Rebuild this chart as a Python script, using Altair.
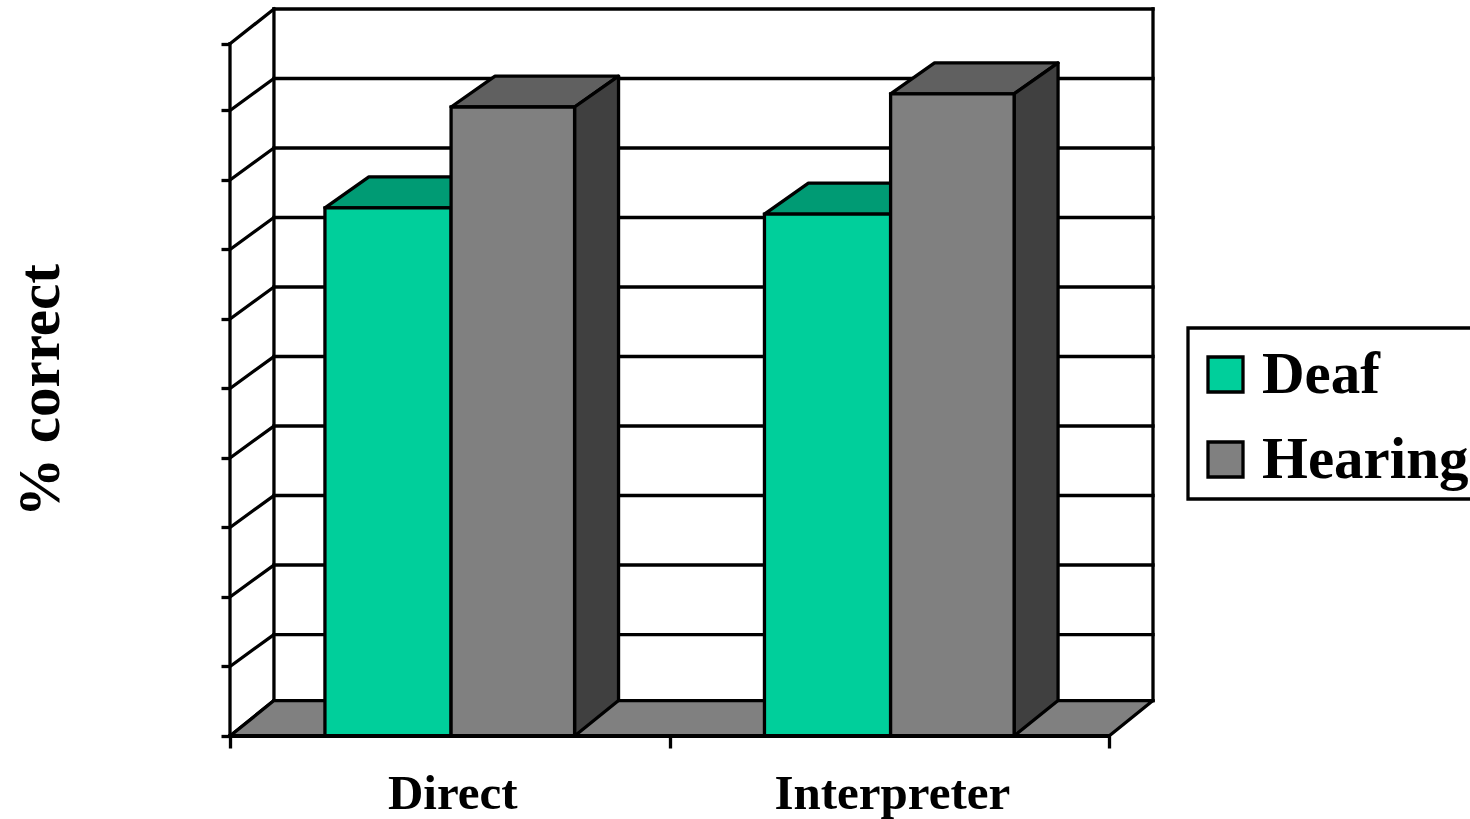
import altair as alt
import pandas as pd

# Survey results by communication mode
categories = ["Direct", "Interpreter"]
groups = ["Deaf", "Hearing"]
deaf_values = [76.0, 75.1]
hearing_values = [90.5, 92.4]

# Colours of the box faces per group: front, top, side
front_colors = ["#00CF9B", "#808080"]
top_colors = ["#009B74", "#606060"]
side_colors = ["#006850", "#404040"]

# Levels of the ticks on the front edge and of the gridlines on the back wall
front_levels = [0, 10, 20, 30, 40, 50, 60, 70, 80, 90, 99.6]
back_levels = [5.1, 14.6, 24.6, 34.6, 44.6, 54.6, 64.6, 74.6, 84.6, 94.6, 104.6]
x_ticks = [0, 1, 2]

# Oblique depth of the boxes, in data units of each axis
DEPTH_X = 0.1
BASE_DEPTH_Y = 5.1
TOP_DEPTH_Y = 4.45
# Bar edges relative to the category centre
bar_edges = [-0.284, 0.003, 0.284]

X_SCALE = alt.Scale(domain=[0, 2.1], nice=False, zero=False)
Y_SCALE = alt.Scale(domain=[0, 104.6], nice=False, zero=False)
INK = "#000000"
LINE_W = 3.3

X_AXIS = alt.Axis(
    values=x_ticks, labels=False, title=None, domain=False, grid=False,
    ticks=True, tickSize=12, tickWidth=LINE_W, tickColor=INK,
)
Y_AXIS = alt.Axis(
    values=front_levels, labels=False, domain=False, grid=False,
    ticks=True, tickSize=9, tickWidth=LINE_W, tickColor=INK,
    title="% correct", titleFont="Liberation Serif", titleFontWeight="bold",
    titleFontSize=59, titleColor=INK, titleX=-160, titleY=381,
    titleAngle=270, titleAlign="center", titleBaseline="bottom",
)
x_enc = alt.X("x:Q", scale=X_SCALE, axis=X_AXIS)
y_enc = alt.Y("y:Q", scale=Y_SCALE, axis=Y_AXIS)

# Wall frame, back-wall gridlines and the slanted gridlines of the side wall
lines = []


def add_line(name, pts):
    for i, (px, py) in enumerate(pts):
        lines.append({"id": name, "seq": i, "x": px, "y": py})


for i, (front, back) in enumerate(zip(front_levels, back_levels)):
    add_line(f"slant{i}", [(0, front), (DEPTH_X, back)])
    add_line(f"grid{i}", [(DEPTH_X, back), (2 + DEPTH_X, back)])
add_line("wall_front", [(0, front_levels[0]), (0, front_levels[-1])])
add_line("wall_mid", [(DEPTH_X, back_levels[0]), (DEPTH_X, back_levels[-1])])
add_line("wall_right", [(2 + DEPTH_X, back_levels[0]), (2 + DEPTH_X, back_levels[-1])])
walls = pd.DataFrame(lines)

# Floor slab and the three visible faces of each bar
floor = pd.DataFrame(
    {"y": [0, BASE_DEPTH_Y], "x": [0, DEPTH_X], "x2": [2, 2 + DEPTH_X]}
)

tops, sides, fronts = [], [], []
for c, category in enumerate(categories):
    center = c + 0.5
    for g, (group, values) in enumerate(zip(groups, [deaf_values, hearing_values])):
        value = values[c]
        left = center + bar_edges[g]
        right = center + bar_edges[g + 1]
        bar_id = f"{category}-{group}"
        fronts.append({"group": group, "x": left, "x2": right, "y": 0, "y2": value})
        for y, shift in [(value, 0), (value + TOP_DEPTH_Y, DEPTH_X)]:
            tops.append(
                {"id": bar_id, "group": group, "y": y,
                 "x": left + shift, "x2": right + shift}
            )
        for x, base, top in [
            (right, 0, value),
            (right + DEPTH_X, BASE_DEPTH_Y, value + TOP_DEPTH_Y),
        ]:
            sides.append({"id": bar_id, "group": group, "x": x, "y": base, "y2": top})

label_df = pd.DataFrame(
    {"x": [i + 0.5 for i in range(len(categories))], "y": [0] * 2, "label": categories}
)
baseline = pd.DataFrame({"x": [0, 2], "y": [0, 0]})

wall_layer = (
    alt.Chart(walls)
    .mark_line(color=INK, strokeWidth=LINE_W, strokeCap="square")
    .encode(x=x_enc, y=y_enc, detail="id:N", order="seq:Q")
)

floor_layer = (
    alt.Chart(floor)
    .mark_area(orient="horizontal", color="#808080", stroke=INK, strokeWidth=LINE_W,
               strokeJoin="round")
    .encode(x=x_enc, x2="x2:Q", y=y_enc)
)

top_layer = (
    alt.Chart(pd.DataFrame(tops))
    .mark_area(orient="horizontal", stroke=INK, strokeWidth=LINE_W, opacity=1,
               strokeJoin="round")
    .encode(
        x=x_enc, x2="x2:Q", y=y_enc, detail="id:N",
        fill=alt.Fill("group:N", scale=alt.Scale(domain=groups, range=top_colors), legend=None),
    )
)

side_layer = (
    alt.Chart(pd.DataFrame(sides))
    .mark_area(stroke=INK, strokeWidth=LINE_W, opacity=1, strokeJoin="round")
    .encode(
        x=x_enc, y=y_enc, y2="y2:Q", detail="id:N",
        fill=alt.Fill("group:N", scale=alt.Scale(domain=groups, range=side_colors), legend=None),
    )
)

front_layer = (
    alt.Chart(pd.DataFrame(fronts))
    .mark_bar(stroke=INK, strokeWidth=LINE_W, opacity=1)
    .encode(
        x=x_enc, x2="x2:Q", y=y_enc, y2="y2:Q",
        color=alt.Color(
            "group:N",
            scale=alt.Scale(domain=groups, range=front_colors),
            legend=alt.Legend(
                title=" ", titleFontSize=4, titlePadding=4,
                orient="none", legendX=958, legendY=319, padding=9,
                strokeColor=INK, fillColor="#ffffff", cornerRadius=0,
                symbolType="square", symbolSize=1225, symbolStrokeColor=INK,
                symbolStrokeWidth=LINE_W, symbolOpacity=1, symbolOffset=-1,
                labelFont="Liberation Serif", labelFontWeight="bold", labelFontSize=59,
                labelColor=INK, labelOffset=7, rowPadding=25, labelLimit=400,
            ),
        ),
    )
)

base_layer = (
    alt.Chart(baseline)
    .mark_line(color=INK, strokeWidth=3.8, strokeCap="square")
    .encode(x=x_enc, y=y_enc)
)

text_layer = (
    alt.Chart(label_df)
    .mark_text(
        font="Liberation Serif", fontWeight="bold", fontSize=49, color=INK,
        baseline="alphabetic", dy=73, dx=3,
    )
    .encode(x=x_enc, y=y_enc, text="label:N")
)

chart = (
    alt.layer(wall_layer, floor_layer, top_layer, side_layer, front_layer, base_layer, text_layer)
    .resolve_scale(fill="independent", color="independent")
    .properties(
        width=923,
        height=727,
        padding={"left": 230, "top": 9, "right": 317, "bottom": 83},
        autosize=alt.AutoSizeParams(type="none"),
        background="#ffffff",
    )
    .configure_view(stroke=None)
    .configure_legend(strokeWidth=LINE_W)
)

chart.save("out.html", embed_options={"renderer": "svg", "actions": False})
